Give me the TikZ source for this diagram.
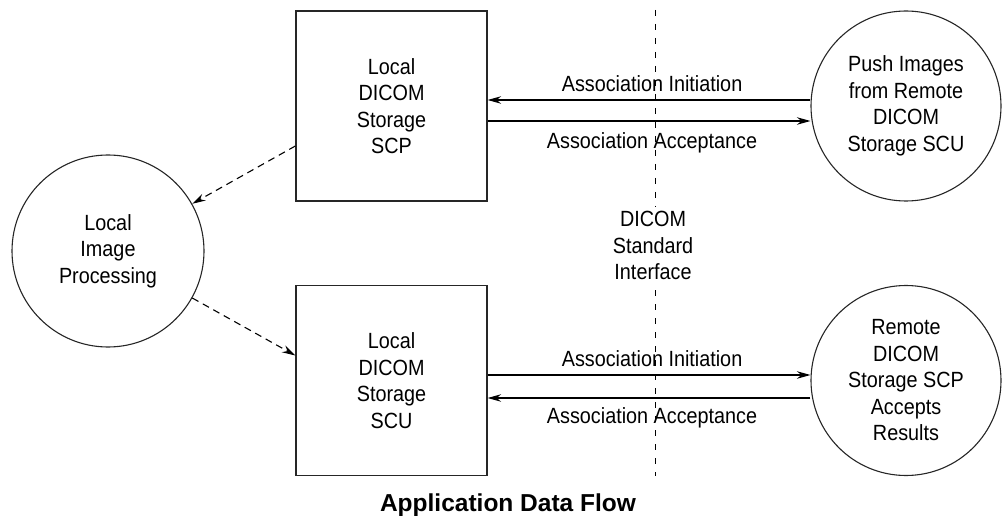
\documentclass[tikz,border=0pt]{standalone}
\usepackage{fontspec}
\setmainfont[FakeStretch=0.9]{Liberation Sans}
\newfontfamily\titlefont{Liberation Sans}
\usetikzlibrary{arrows.meta}

\tikzset{
	box/.style = {draw=black!85, line width=1.3pt, minimum width=191pt, minimum height=190pt, align=center},
	bubble/.style = {draw=black!85, line width=1.1pt, circle, minimum size=190pt, align=center},
	msg/.style = {line width=1.1pt, -{Stealth[length=13.5pt, width=7.5pt, inset=4.5pt]}},
	feed/.style = {msg, dash pattern=on 7pt off 5pt},
	lbl/.style = {inner sep=0pt},
}

\begin{document}
\begin{tikzpicture}[x=1pt, y=-1pt, font=\fontsize{22}{26.5}\selectfont]
\useasboundingbox (0,0) rectangle (1002,516);
\coordinate (if-top) at (655,10);
\coordinate (if-bot) at (655,476);
\draw[line width=1pt, dash pattern=on 6pt off 8pt] (if-top) -- (if-bot);
\node[fill=white, align=center, inner sep=4pt] (if) at (653,245.5) {DICOM\\Standard\\Interface};

\node[box] (scp) at (391.5,106) {Local\\DICOM\\Storage\\SCP};
\node[box] (scu) at (391.5,380.5) {Local\\DICOM\\Storage\\SCU};
\node[bubble, minimum size=192pt] (lip) at (108,251) {Local\\Image\\Processing};
\node[bubble] (push) at (906,106) {Push Images\\from Remote\\DICOM\\Storage SCU};
\node[bubble] (remote) at (906,380.5) {Remote\\DICOM\\Storage SCP\\Accepts\\Results};

\draw[msg] ([yshift=6pt]push.west) -- ([yshift=6pt]scp.east)
	node[midway, above=8pt, xshift=3pt, lbl] (ini-a) {Association Initiation};
\draw[msg] ([yshift=-15pt]scp.east) -- ([yshift=-15pt]push.west)
	node[midway, below=11pt, xshift=3pt, lbl] (acc-a) {Association Acceptance};
\draw[msg] ([yshift=5.5pt]scu.east) -- ([yshift=5.5pt]remote.west)
	node[midway, above=8pt, xshift=3pt, lbl] (ini-b) {Association Initiation};
\draw[msg] ([yshift=-17.5pt]remote.west) -- ([yshift=-17.5pt]scu.east)
	node[midway, below=9pt, xshift=3pt, lbl] (acc-b) {Association Acceptance};

\draw[feed] ([yshift=-40pt]scp.west) -- (lip);
\draw[feed] (lip) -- ([yshift=25pt]scu.west);

\node[font=\titlefont\bfseries\fontsize{24.5}{29}\selectfont, anchor=base] (title) at (508,511) {Application Data Flow};
\end{tikzpicture}
\end{document}
